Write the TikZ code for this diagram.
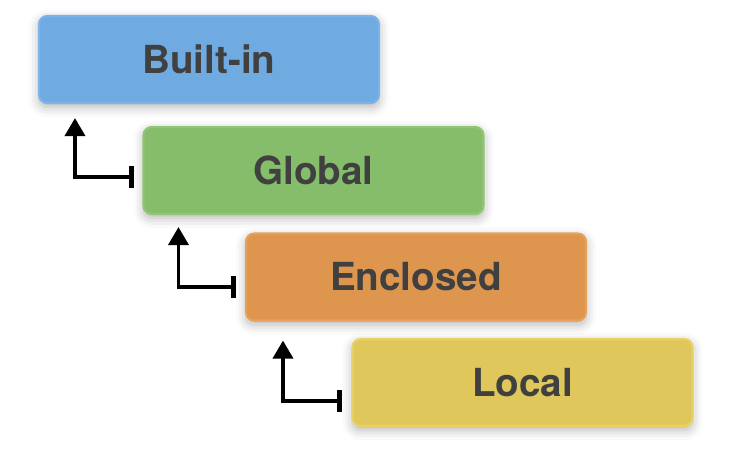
\documentclass[tikz,border=0pt]{standalone}
\usepackage{fontspec}
\setsansfont{TeX Gyre Heros}
\usepackage{tikz}
\usetikzlibrary{arrows.meta,shadows.blur,calc}
\definecolor{builtinblue}{HTML}{6FAAE1}
\definecolor{builtinedge}{HTML}{7DB3EA}
\definecolor{globalgreen}{HTML}{85BD6A}
\definecolor{globaledge}{HTML}{92C676}
\definecolor{enclorange}{HTML}{DE954E}
\definecolor{encledge}{HTML}{E6A25D}
\definecolor{localyellow}{HTML}{DFC75B}
\definecolor{localedge}{HTML}{E9D168}
\definecolor{labelgray}{HTML}{404040}
\tikzset{
  scopebox/.style={rectangle, rounded corners=0.16cm, minimum width=6.8cm,
    minimum height=1.74cm, inner sep=0pt, line width=1.2pt, text=labelgray,
    font=\fontsize{22}{26}\selectfont\sffamily\bfseries,
    blur shadow={shadow xshift=0pt, shadow yshift=-0.08cm,
      shadow blur radius=0.2cm, shadow opacity=30}},
  lookup/.style={line width=2.1pt,
    {Bar[width=0.44cm,line width=3pt]}-{Triangle[width=0.4cm,length=0.36cm]}},
}

\begin{document}
\begin{tikzpicture}[x=0.02cm,y=-0.02cm]
\useasboundingbox (0,0) rectangle (745,461);
\node[scopebox, fill=builtinblue, draw=builtinedge] (builtin) at (209,59.5) {Built-in};
\node[scopebox, fill=globalgreen, draw=globaledge] (global) at (313.5,170.5) {Global};
\node[scopebox, fill=enclorange, draw=encledge] (enclosed) at (416,277) {Enclosed};
\node[scopebox, fill=localyellow, draw=localedge] (local) at (522.5,382.5) {Local};
% lookup goes outward, one level up
\draw[lookup] ($(global.west)+(-8,6.5)$) -| ($(builtin.south west)+(37,14)$);
\draw[lookup] ($(enclosed.west)+(-9,10)$) -| ($(global.south west)+(36,12)$);
\draw[lookup] ($(local.west)+(-9,18.5)$) -| ($(enclosed.south west)+(38,19)$);
\end{tikzpicture}
\end{document}
